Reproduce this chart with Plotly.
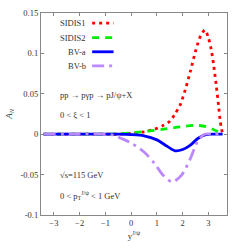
import plotly.graph_objects as go

# ---- data ----
sidis1_x = [-3.4, -2.0, -1.0, -0.5, 0.0, 0.5, 0.9, 1.25, 1.5, 1.7, 1.9, 2.1, 2.3, 2.5, 2.7, 2.87, 3.0, 3.1, 3.2, 3.3, 3.4, 3.45, 3.5, 3.55]
sidis1_y = [0.0, 0.0, 0.0, 0.0, 0.001, 0.003, 0.006, 0.011, 0.016, 0.025, 0.036, 0.055, 0.078, 0.103, 0.122, 0.129, 0.119, 0.106, 0.086, 0.061, 0.033, 0.018, 0.008, 0.0]

sidis2_x = [-3.4, -2.0, -1.0, -0.5, 0.0, 0.6, 1.2, 1.9, 2.5, 2.9, 3.25, 3.5]
sidis2_y = [0.0, 0.0, 0.0, 0.0005, 0.0017, 0.0037, 0.006, 0.009, 0.011, 0.0095, 0.005, 0.001]

bva_x = [-3.4, -2.0, -1.0, -0.5, 0.0, 0.5, 1.0, 1.3, 1.7, 2.0, 2.3, 2.6, 2.9, 3.2, 3.55]
bva_y = [0.0, 0.0, 0.0, 0.0, -0.0005, -0.002, -0.007, -0.013, -0.0205, -0.019, -0.0135, -0.005, -0.0005, 0.0, 0.0]

bvb_x = [-3.4, -2.0, -1.0, -0.7, -0.4, 0.0, 0.5, 0.9, 1.25, 1.6, 1.95, 2.3, 2.6, 2.85, 3.2, 3.55]
bvb_y = [0.0, 0.0, 0.0, -0.001, -0.005, -0.011, -0.022, -0.036, -0.051, -0.059, -0.051, -0.030, -0.0075, 0.0, 0.0, 0.0]

series_names = ["SIDIS1", "SIDIS2", "BV-a", "BV-b"]
x_tick_vals = [-3, -2, -1, 0, 1, 2, 3]
x_tick_text = ["\u22123", "\u22122", "\u22121", "0", "1", "2", "3"]
y_tick_vals = [-0.1, -0.05, 0, 0.05, 0.1, 0.15]
y_tick_text = ["-0.1", "-0.05", "0", "0.05", "0.1", "0.15"]

# ---- styles ----
FONT = "Liberation Serif"
TXT = "#333"
FS = 8.5
styles = [
    dict(color="#ff0000", width=2.8, dash="3px,4px"),
    dict(color="#00ee00", width=2.8, dash="7px,6px"),
    dict(color="#0000ff", width=2.8, dash="solid"),
    dict(color="#bb88ff", width=2.8, dash="12px,5px,3px,5px"),
]
data = [(sidis1_x, sidis1_y), (sidis2_x, sidis2_y), (bva_x, bva_y), (bvb_x, bvb_y)]

fig = go.Figure()
for (xs, ys), name, st in zip(data, series_names, styles):
    fig.add_trace(go.Scatter(x=xs, y=ys, mode="lines", name=name,
                             line=dict(shape="spline", smoothing=0.8, **st),
                             showlegend=False))

# legend: text right-aligned, sample to the right (as in the reference)
leg_y = [0.95, 0.878, 0.808, 0.738]
for name, st, yy in zip(series_names, styles, leg_y):
    fig.add_annotation(x=0.255, y=yy, xref="paper", yref="paper", text=name,
                       showarrow=False, xanchor="right", yanchor="middle",
                       font=dict(family=FONT, size=FS, color=TXT))
    fig.add_shape(type="line", xref="paper", yref="paper",
                  x0=0.275, x1=0.39, y0=yy, y1=yy,
                  line=dict(color=st["color"], width=st["width"], dash=st["dash"]))

texts = [
    ("pp \u2192 p\u03b3p \u2192 pJ/\u03c8+X", 0.595),
    ("0 &lt; \u03be &lt; 1", 0.497),
    ("\u221as=115 GeV", 0.2),
    ("0 &lt; p<sub>T</sub><sup>J/\u03c8</sup> &lt; 1 GeV", 0.095),
]
for t, yy in texts:
    fig.add_annotation(x=0.09, y=yy, xref="paper", yref="paper", text=t,
                       showarrow=False, xanchor="left", yanchor="middle",
                       font=dict(family=FONT, size=FS, color=TXT))

axis_common = dict(showline=True, linecolor="#888", linewidth=1.2, mirror="ticks",
                   ticks="inside", ticklen=3, tickcolor="#888", showgrid=False,
                   zeroline=False, automargin=False,
                   tickfont=dict(family=FONT, size=FS, color=TXT))

fig.update_xaxes(range=[-3.5, 3.72], tickvals=x_tick_vals, ticktext=x_tick_text,
                 title=dict(text="y<sup>J/\u03c8</sup>", font=dict(family=FONT, size=9, color=TXT), standoff=5),
                 **axis_common)
fig.update_yaxes(range=[-0.1, 0.15], tickvals=y_tick_vals, ticktext=y_tick_text,
                 title=dict(text="<i>A<sub>N</sub></i>", font=dict(family=FONT, size=9, color=TXT), standoff=6),
                 **axis_common)

fig.update_layout(width=240, height=251, margin=dict(l=41, r=13, t=13, b=36, autoexpand=False),
                  plot_bgcolor="white", paper_bgcolor="white")

fig.write_html("out.html", config={"displayModeBar": False},
               post_script="document.body.style.margin='0';document.body.style.overflow='hidden';")
